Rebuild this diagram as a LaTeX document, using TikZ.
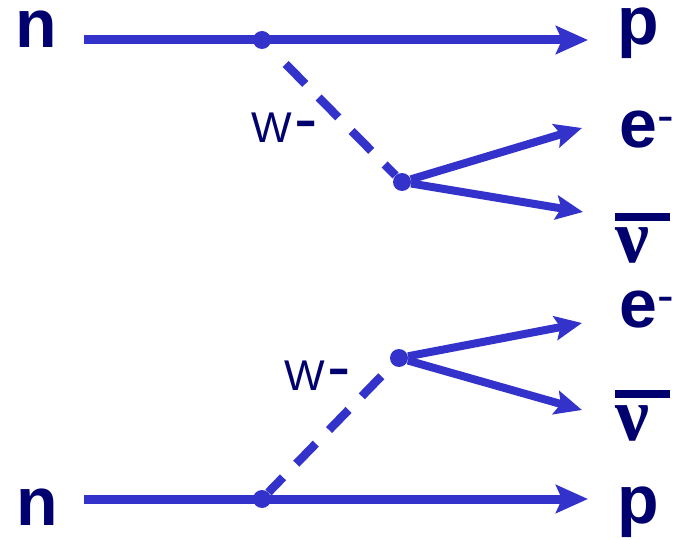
\documentclass[tikz,border=0pt]{standalone}
\usepackage{fontspec}
\setmainfont{Liberation Sans}
\newfontfamily\nufont{Liberation Serif}
\usetikzlibrary{arrows.meta}
\definecolor{linec}{RGB}{51,51,204}
\definecolor{txtc}{RGB}{0,0,110}
\begin{document}
\begin{tikzpicture}[x=1pt,y=-1pt,
  mainline/.style={draw=linec,line width=9pt,-{Stealth[length=32pt,width=28pt,inset=6pt]}},
  lepton/.style={draw=linec,line width=8pt,-{Stealth[length=27pt,width=24pt,inset=5pt]}},
  boson/.style={draw=linec,line width=8.5pt,dash pattern=on 28pt off 19pt},
  vtx/.style={circle,fill=linec,minimum size=18pt,inner sep=0pt},
  big/.style={text=txtc,inner sep=0pt,anchor=base west,text height=38pt,text depth=15pt,font=\bfseries\fontsize{68}{68}\selectfont},
  nulab/.style={big,text height=50pt,text depth=2pt},
  wlab/.style={text=txtc,inner sep=0pt,anchor=base west,text height=31pt,text depth=0pt,font=\fontsize{43}{43}\selectfont}]
\useasboundingbox (0,0) rectangle (675,540);
% labels
\node[big] (n1) at (15.5,48) {n};
\node[big] (n2) at (16.5,525) {n};
\node[big] (p1) at (617,45) {p};
\node[big] (p2) at (617,523) {p};
\node[big] (e1) at (619,148) {e\raisebox{15pt}{\fontsize{50}{50}\fontseries{m}\selectfont -}};
\node[big] (e2) at (619,327) {e\raisebox{15pt}{\fontsize{50}{50}\fontseries{m}\selectfont -}};
\node[nulab] (nu1) at (615,262) {\makebox[0pt][l]{\raisebox{41pt}{\rule{55pt}{8pt}}}{\nufont\fontsize{76}{76}\selectfont ν}};
\node[nulab] (nu2) at (615,440) {\makebox[0pt][l]{\raisebox{42pt}{\rule{55pt}{8pt}}}{\nufont\fontsize{76}{76}\selectfont ν}};
\node[wlab] (w1) at (251,143) {W\hspace{3pt}{\fontsize{70}{70}\selectfont -}};
\node[wlab] (w2) at (284,390) {W\hspace{3pt}{\fontsize{70}{70}\selectfont -}};
% vertices
\node[vtx] (v1) at (262,40) {};
\node[vtx] (v2) at (402,182) {};
\node[vtx] (v3) at (399,358) {};
\node[vtx] (v4) at (262,499) {};
% free ends
\coordinate (s1) at (84,40);
\coordinate (t1) at (588,40);
\coordinate (s2) at (84,499);
\coordinate (t2) at (588,499);
\coordinate (te1) at (582,128);
\coordinate (tn1) at (583,212);
\coordinate (te2) at (582,323);
\coordinate (tn2) at (582,410);
% lines
\draw[mainline] (s1) -- (t1);
\draw[mainline] (s2) -- (t2);
\draw[boson,shorten <=24.5pt] (v1) -- (v2);
\draw[boson,dash phase=7pt] (v4) -- (v3);
\draw[lepton] (v2) -- (te1);
\draw[lepton] (v2) -- (tn1);
\draw[lepton] (v3) -- (te2);
\draw[lepton] (v3) -- (tn2);
\end{tikzpicture}
\end{document}
